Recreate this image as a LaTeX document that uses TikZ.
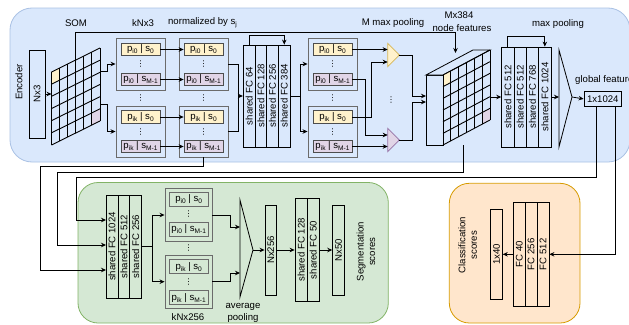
\documentclass[tikz,border=0pt]{standalone}
\usepackage{fontspec}
\setmainfont{Liberation Sans}
\newfontfamily\dvsans{DejaVu Sans}
\usetikzlibrary{arrows.meta}

\definecolor{encbg}{HTML}{DAE8FC}
\definecolor{encln}{HTML}{A9C1E4}
\definecolor{segbg}{HTML}{D5E8D4}
\definecolor{segln}{HTML}{82B366}
\definecolor{clsbg}{HTML}{FFE6CC}
\definecolor{clsln}{HTML}{D79B00}
\definecolor{ylw}{HTML}{FFF2CC}
\definecolor{ylwln}{HTML}{D6B656}
\definecolor{pnk}{HTML}{E1D5E7}
\definecolor{pnkln}{HTML}{9673A6}
\definecolor{boxln}{HTML}{4D4D4D}
\definecolor{grpln}{HTML}{6B6B6B}

% subscript in the small point cells
\newcommand\sbs[1]{\raisebox{-0.4ex}{\fontsize{6.6}{7}\selectfont #1}}

\tikzset{
  every node/.style={font=\fontsize{9.6}{11.5}\selectfont, inner sep=0pt},
  ln/.style={line width=0.8pt},
  arr/.style={ln, -{Stealth[length=5pt,width=4.5pt]}},
  bar/.style={draw=black, line width=0.8pt},
  rot/.style={rotate=90},
  vdot/.style={font=\dvsans\fontsize{8}{8}\selectfont},
  grp/.style={draw=grpln, line width=0.9pt, minimum width=49pt, minimum height=52pt},
  ycell/.style={draw=boxln, fill=ylw, line width=0.7pt, minimum width=39pt, minimum height=12.5pt},
  pcell/.style={draw=boxln, fill=pnk, line width=0.7pt, minimum width=39pt, minimum height=12.5pt},
  sgrp/.style={draw=grpln, line width=0.9pt, minimum width=47pt, minimum height=53.4pt},
  scell/.style={draw=grpln, line width=0.7pt, minimum width=39.3pt, minimum height=14pt},
  gridln/.style={line width=0.9pt},
}

\begin{document}
\begin{tikzpicture}[x=1pt, y=-1pt]
\useasboundingbox (0,0) rectangle (629,324);

% ---------- background regions ----------
\draw[fill=encbg, draw=encln, line width=0.8pt, rounded corners=22pt] (10,8) rectangle (630,162);
\draw[fill=segbg, draw=segln, line width=0.8pt, rounded corners=20pt] (78,182.5) rectangle (388.3,323);
\draw[fill=clsbg, draw=clsln, line width=0.8pt, rounded corners=20pt] (449.3,183.3) rectangle (580,323);

% ---------- encoder ----------
\node[rot] (enc) at (19,82) {Encoder};
\node[bar, minimum width=16pt, minimum height=88pt] (nx3) at (37,94) {};
\node[rot] (nx3t) at (nx3) {Nx3};

% SOM grid (skewed 6x6)
\begin{scope}[shift={(51.5,72)}, x={(8.0833pt,4pt)}, y={(0pt,-12.1667pt)}]
  \fill[ylw] (0,0) -- (1,0) -- (1,1) -- (0,1) -- cycle;
  \fill[pnk] (5,5) -- (6,5) -- (6,6) -- (5,6) -- cycle;
  \foreach \i in {0,...,6} {
    \draw[gridln] (\i,0) -- (\i,6);
    \draw[gridln] (0,\i) -- (6,\i);
  }
  \coordinate (somtop) at (3,0);
\end{scope}
\coordinate (somin) at (51.5,94);
\coordinate (somo1) at (100,71);
\coordinate (somo2) at (100,104);

% kNx3 groups, normalized groups and pooled groups
\foreach \nm/\cx in {g/140.5, n/203.5, m/332.5} {
  \node[grp] (\nm a) at (\cx,64) {};
  \node[grp, minimum height=51pt] (\nm b) at (\cx,131.5) {};
  \node[ycell] (\nm a1) at (\cx,49.5) {p\sbs{i0} | s\sbs{0}};
  \node[pcell] (\nm a2) at (\cx,79.5) {p\sbs{i0} | s\sbs{M-1}};
  \node[vdot] (\nm ad) at (\cx,64.5) {⋮};
  \node[ycell] (\nm b1) at (\cx,117) {p\sbs{ik} | s\sbs{0}};
  \node[pcell] (\nm b2) at (\cx,146.5) {p\sbs{ik} | s\sbs{M-1}};
  \node[vdot] (\nm bd) at (\cx,132) {⋮};
  \node[vdot] (\nm d) at (\cx,98.5) {⋮};
}

% shared FC stack 1
\foreach \nm/\cx/\tx in {e1/249.15/64, e2/260.85/128, e3/272.55/256, e4/284.25/384} {
  \node[bar, minimum width=11.7pt, minimum height=102pt] (\nm) at (\cx,96) {};
  \node[rot] (\nm t) at (\nm) {shared FC \tx};
}

% M max pooling triangles
\draw[fill=ylw, draw=ylwln, line width=0.8pt] (387.7,43.3) -- (399.3,55) -- (387.7,66.7) -- cycle;
\draw[fill=pnk, draw=pnkln, line width=0.8pt] (387.7,128.3) -- (399.3,140) -- (387.7,151.7) -- cycle;
\coordinate (ty) at (399.3,55);
\coordinate (tyin1) at (387.7,49.5);
\coordinate (tyin2) at (387.7,62);
\coordinate (tp) at (399.3,140);
\coordinate (tpin1) at (387.7,135);
\coordinate (tpin2) at (387.7,146.5);
\node[vdot] (tdots) at (391,100) {⋮};

% node feature cube
\node[bar, minimum width=17pt, minimum height=70pt] (cube) at (434.5,110) {};
\draw[line width=0.8pt, fill=encbg] (426,75) -- (443,75) -- (490,50) -- (473,50) -- cycle;
\begin{scope}[shift={(443,75)}, x={(7.8333pt,4.1667pt)}, y={(0pt,-11.6667pt)}]
  \fill[ylw] (0,0) -- (1,0) -- (1,1) -- (0,1) -- cycle;
  \fill[pnk] (5,5) -- (6,5) -- (6,6) -- (5,6) -- cycle;
  \foreach \i in {0,...,6} {
    \draw[gridln] (\i,0) -- (\i,6);
    \draw[gridln] (0,\i) -- (6,\i);
  }
\end{scope}
\coordinate (cubetop) at (455.5,53);
\coordinate (cubein1) at (426,96);
\coordinate (cubein2) at (426,102);
\coordinate (cubeout) at (490,97);
\coordinate (cubebot) at (463,145);

% shared FC stack 2
\foreach \nm/\cx/\tx in {f1/507.85/512, f2/520.2/512, f3/532.5/768, f4/544.85/1024} {
  \node[bar, minimum width=12.33pt, minimum height=100pt] (\nm) at (\cx,97) {};
  \node[rot] (\nm t) at (\nm) {shared FC \tx};
}

% max pooling and global feature
\draw[line width=0.8pt] (559,50) -- (572,97) -- (559,147) -- cycle;
\coordinate (mpin) at (559,97);
\coordinate (mpapex) at (572,97);
\node[bar, minimum width=37.7pt, minimum height=14.3pt] (gf) at (602.8,98.9) {1x1024};
\node[anchor=west] (gft) at (575,80) {global feature};

% top labels
\node (lsom) at (76,23) {SOM};
\node (lknx) at (143,23) {kNx3};
\node (lnorm) at (202.5,23) {normalized by s\sbs{j}};
\node (lmmp) at (393,23) {M max pooling};
\node (lmx) at (459,15) {Mx384};
\node (lnf) at (462,28.5) {node features};
\node (lmp) at (558,24) {max pooling};

% ---------- segmentation ----------
\foreach \nm/\cx/\tx in {s1/111.95/1024, s2/123.85/512, s3/135.75/256} {
  \node[bar, minimum width=11.9pt, minimum height=103pt] (\nm) at (\cx,246.5) {};
  \node[rot] (\nm t) at (\nm) {shared FC \tx};
}
\coordinate (sin1) at (106,220);
\coordinate (sin2) at (106,245);
\coordinate (sin3) at (106,270);

\node[sgrp] (sa) at (188.5,215) {};
\node[sgrp] (sb) at (188.5,281.7) {};
\node[scell] (sa1) at (188.7,199.5) {p\sbs{i0} | s\sbs{0}};
\node[scell] (sa2) at (188.7,229.2) {p\sbs{i0} | s\sbs{M-1}};
\node[vdot] (sad) at (188.7,214.5) {⋮};
\node[scell] (sb1) at (188.7,266.7) {p\sbs{ik} | s\sbs{0}};
\node[scell] (sb2) at (188.7,297.8) {p\sbs{ik} | s\sbs{M-1}};
\node[vdot] (sbd) at (188.7,282.2) {⋮};
\node[vdot] (sd) at (188.5,248.5) {⋮};
\node (lknx2) at (188,316.7) {kNx256};

\draw[line width=0.8pt] (240,200) -- (253,250) -- (240,297) -- cycle;
\coordinate (avin1) at (240,227);
\coordinate (avin2) at (240,273);
\coordinate (avapex) at (253,250);
\node[align=center] (lavg) at (243,313) {average\\pooling};

\node[bar, minimum width=11.7pt, minimum height=90pt] (sn1) at (270.8,250) {};
\node[rot] (sn1t) at (sn1) {Nx256};
\foreach \nm/\cx/\tx in {sf1/301.1/128, sf2/313.2/50} {
  \node[bar, minimum width=12.15pt, minimum height=103.4pt] (\nm) at (\cx,250) {};
  \node[rot] (\nm t) at (\nm) {shared FC \tx};
}
\node[bar, minimum width=11.7pt, minimum height=90pt] (sn2) at (338.5,250) {};
\node[rot] (sn2t) at (sn2) {Nx50};
\node[rot, align=center] (lseg) at (366,251.7) {Segmentation\\scores};

% ---------- classification ----------
\node[rot, align=center] (lcls) at (467.7,245) {Classification\\scores};
\node[bar, minimum width=11.7pt, minimum height=90pt] (c0) at (496.5,254.3) {};
\node[rot] (c0t) at (c0) {1x40};
\foreach \nm/\cx/\tx in {c1/519.25/40, c2/531.15/256, c3/543.05/512} {
  \node[bar, minimum width=11.9pt, minimum height=103.3pt] (\nm) at (\cx,254.3) {};
  \node[rot] (\nm t) at (\nm) {FC \tx};
}

% ---------- connectors ----------
\draw[arr] (nx3.east) -- (somin);
\draw[arr] (somo1) -- ++(7,0) |- (ga.west);
\draw[arr] (somo2) -- ++(7,0) |- (gb.west);
\draw[arr] (somtop) -- ++(0,-28) -| (cubetop);

\foreach \r in {a1,a2,b1,b2} { \draw[arr] (g\r.east) -- (n\r.west); }

\coordinate (j1) at (238,96);
\draw[ln] (na.east) -| (j1);
\draw[ln] (nb.east) -| (j1);
\draw[arr] (j1) -- (e1.west);
\draw[arr] (e1.north) -- ++(0,-9) -| (e4.north);

\coordinate (j2) at (300,96);
\draw[ln] (e4.east) -- (j2);
\draw[arr] (j2) |- (ma.west);
\draw[arr] (j2) |- (mb.west);

\draw[arr] (ma1.east) -- (tyin1);
\draw[arr] (mb1.east) -- ++(18.7,0) |- (tyin2);
\draw[arr] (ma2.east) -- ++(12.7,0) |- (tpin1);
\draw[arr] (mb2.east) -- (tpin2);
\draw[arr] (ty) -- ++(13.4,0) |- (cubein1);
\draw[arr] (tp) -- ++(13.4,0) |- (cubein2);

\draw[arr] (cubeout) -- (f1.west);
\draw[arr] (f1.north) -- ++(0,-10) -| (f4.north);
\draw[arr] (f4.east) -- (mpin);
\draw[arr] (mpapex) -- (gf.west);

\coordinate (gfo1) at ([xshift=12.4pt]gf.south west);
\coordinate (gfo2) at ([xshift=32.1pt]gf.south west);
\draw[arr] (gfo1) |- (76,177) |- (sin1);
\draw[arr] (cubebot) |- (57,172) |- (sin2);
\draw[arr] (nb.south) |- (40,166) |- (sin3);
\draw[arr] (gfo2) |- (c3.east);

\coordinate (j3) at (152,246.5);
\draw[ln] (s3.east) -- (j3);
\draw[arr] (j3) |- (sa.west);
\draw[arr] (j3) |- (sb.west);
\draw[arr] (sa.east) -- ++(18,0) |- (avin1);
\draw[arr] (sb.east) -- ++(18,0) |- (avin2);
\draw[arr] (avapex) -- (sn1.west);
\draw[arr] (sn1.east) -- (sf1.west);
\draw[arr] (sf2.east) -- (sn2.west);
\draw[arr] (c1.west) -- (c0.east);
\end{tikzpicture}
\end{document}
